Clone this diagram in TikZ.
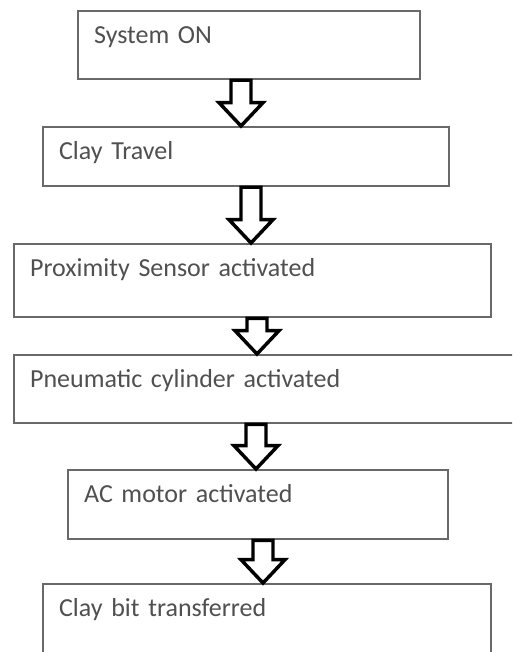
\documentclass[tikz,border=0pt]{standalone}
\usepackage{fontspec}
\setmainfont{Carlito}
\usepackage{tikz}
\usetikzlibrary{calc,positioning}
\usepackage{xcolor}
\definecolor{boxcol}{RGB}{105,105,105}
\definecolor{txtcol}{RGB}{80,80,80}

\begin{document}
\begin{tikzpicture}[
    x=0.75pt, y=-0.75pt,
    stepbox/.style 2 args={draw=boxcol, line width=1.7pt, fill=white,
                    text width=#1, text height=16pt, text depth=#2,
                    inner xsep=12pt, inner ysep=8pt, align=left,
                    anchor=north west, font=\fontsize{19.5}{22}\selectfont,
                    text=txtcol},
    blockarr/.style={draw=black, line width=2.6pt, fill=white, line join=miter,
                    to path={let \p1=(\tikztostart), \p2=(\tikztotarget) in
                      (\x1-7.5pt,\y1) -- (\x1-7.5pt,\y2+17.5pt)
                      -- (\x1-16.5pt,\y2+17.5pt) -- (\x1,\y2)
                      -- (\x1+16.5pt,\y2+17.5pt) -- (\x1+7.5pt,\y2+17.5pt)
                      -- (\x1+7.5pt,\y1) -- cycle}},
]
\useasboundingbox (0,0) rectangle (512,652);
\clip (0,0) rectangle (512,652);

% ============ STEPS ============
\node[stepbox={232.5pt}{19pt}] (b1) at (77,10) {System ON};
\node[stepbox={280.5pt}{12.25pt}] (b2) at (42,126) {Clay Travel};
\node[stepbox={333.75pt}{22.75pt}] (b3) at (13,243) {Proximity Sensor activated};
\node[stepbox={363.75pt}{19pt}] (b4) at (13,354) {Pneumatic cylinder activated};
\node[stepbox={261pt}{19.75pt}] (b5) at (67,469) {AC motor activated};
\node[stepbox={312pt}{43pt}] (b6) at (42,583) {Clay bit transferred};

% ============ BLOCK ARROWS ============
\coordinate (x1) at (241,0);
\coordinate (x2) at (251,0);
\coordinate (x3) at (257,0);
\coordinate (x4) at (256,0);
\coordinate (x5) at (263,0);
\draw[blockarr] (b1.south -| x1) to (b2.north -| x1);
\draw[blockarr] (b2.south -| x2) to (b3.north -| x2);
\draw[blockarr] (b3.south -| x3) to (b4.north -| x3);
\draw[blockarr] (b4.south -| x4) to (b5.north -| x4);
\draw[blockarr] (b5.south -| x5) to (b6.north -| x5);

\end{tikzpicture}
\end{document}
